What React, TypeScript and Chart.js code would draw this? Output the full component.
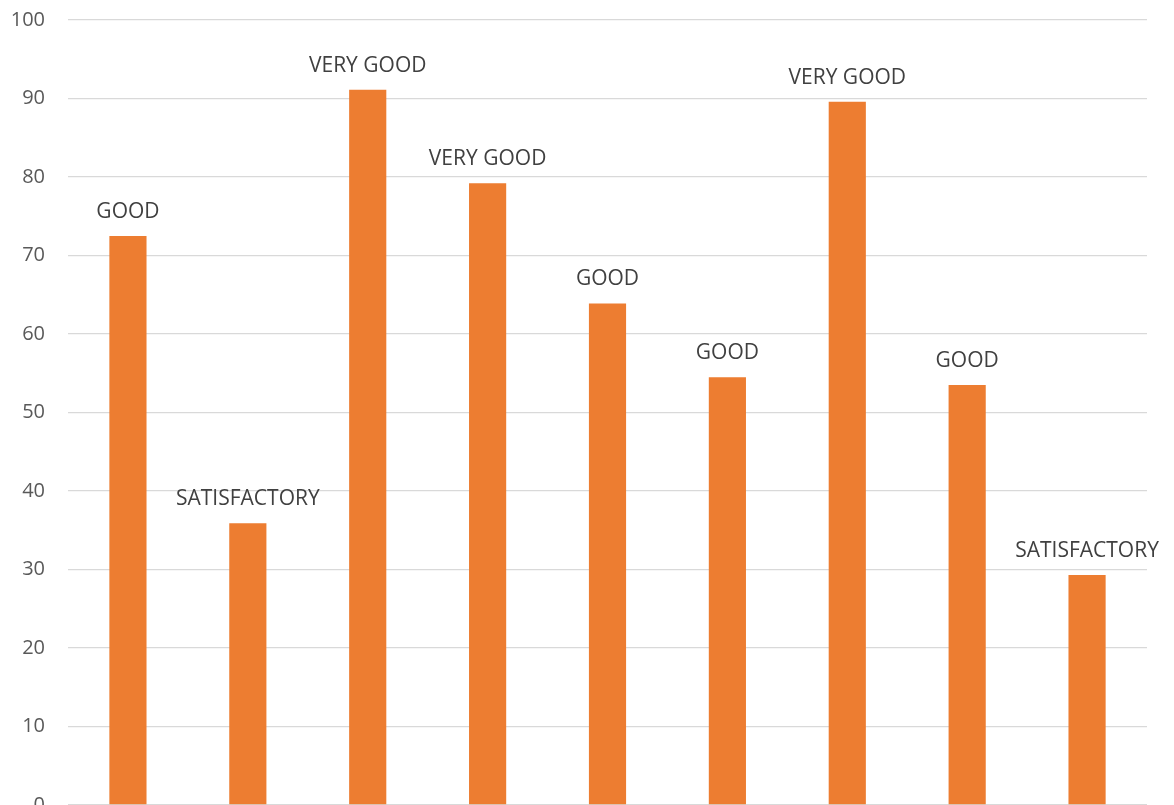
import React, { useEffect, useRef } from "react";
import { Chart, registerables } from "chart.js";

Chart.register(...registerables);

const categories = ["1", "2", "3", "4", "5", "6", "7", "8", "9"];
const scores = [72.5, 35.9, 91.1, 79.2, 63.9, 54.5, 89.6, 53.5, 29.3];
const ratings = ["GOOD", "SATISFACTORY", "VERY GOOD", "VERY GOOD", "GOOD", "GOOD", "VERY GOOD", "GOOD", "SATISFACTORY"];
const yTicks = [0, 10, 20, 30, 40, 50, 60, 70, 80, 90, 100];

const FONT = "'Open Sans', sans-serif";

const ratingLabels = {
  id: "ratingLabels",
  afterDatasetsDraw(chart: any) {
    const ctx = chart.ctx;
    const meta = chart.getDatasetMeta(0);
    ctx.save();
    ctx.font = `21px ${FONT}`;
    ctx.fillStyle = "#404040";
    ctx.textAlign = "center";
    ctx.textBaseline = "alphabetic";
    meta.data.forEach((bar: any, i: number) => {
      ctx.fillText(ratings[i], bar.x, bar.y - 18);
    });
    ctx.restore();
  },
};

export default function App() {
  const ref = useRef<HTMLCanvasElement | null>(null);
  useEffect(() => {
    if (!ref.current) return;
    const chart = new Chart(ref.current, {
      type: "bar",
      data: {
        labels: categories,
        datasets: [
          {
            data: scores,
            backgroundColor: "#ED7D31",
            categoryPercentage: 1,
            barPercentage: 0.31,
          },
        ],
      },
      options: {
        responsive: false,
        animation: false,
        layout: { padding: { top: 0, right: 19, bottom: 0, left: 0 } },
        plugins: { legend: { display: false }, tooltip: { enabled: false } },
        scales: {
          x: {
            display: true,
            ticks: { display: false },
            grid: { display: false },
            border: { display: false },
          },
          y: {
            min: 0,
            max: 100,
            afterBuildTicks: (axis: any) => {
              axis.ticks = yTicks.map((v) => ({ value: v }));
            },
            afterFit: (axis: any) => {
              axis.width = 60;
            },
            ticks: {
              padding: 23,
              color: "#595959",
              font: { family: FONT, size: 20 },
            },
            grid: { color: "#d9d9d9", lineWidth: 1.3, drawTicks: false },
            border: { display: false },
          },
        },
      },
      plugins: [ratingLabels],
    });
    return () => chart.destroy();
  }, []);
  return (
    <canvas
      ref={ref}
      width={1158}
      height={855}
      style={{ display: "block", marginTop: -23 }}
    />
  );
}
